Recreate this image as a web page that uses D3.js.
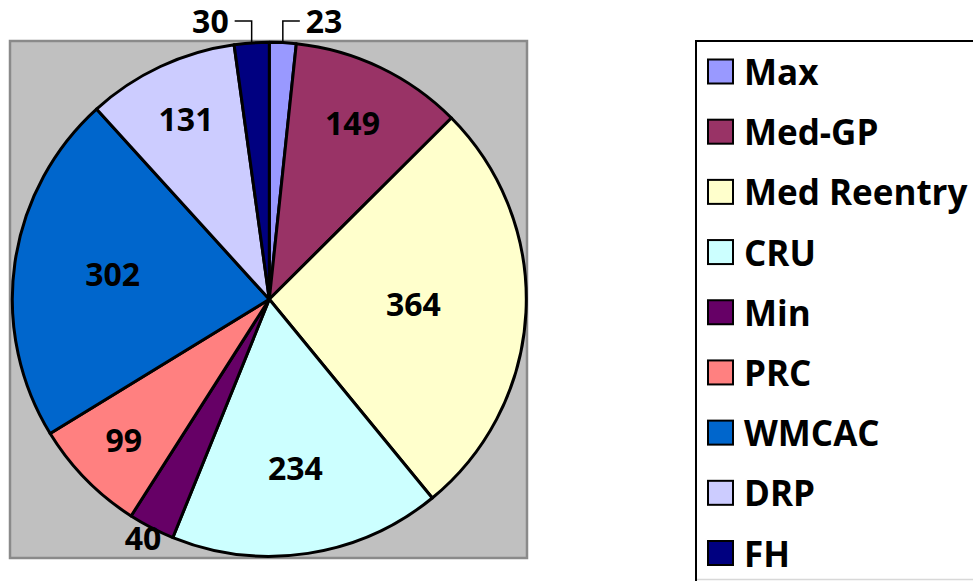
<!DOCTYPE html>
<html>
<head>
<meta charset="utf-8">
<script src="https://cdn.jsdelivr.net/npm/d3@7"></script>
<style>
  body { margin: 0; background: #fff; }
  svg { display: block; font-family: "Open Sans", sans-serif; font-weight: 700; }
</style>
</head>
<body>
<div id="chart"></div>
<script>
// data
const categories = ["Max", "Med-GP", "Med Reentry", "CRU", "Min", "PRC", "WMCAC", "DRP", "FH"];
const values = [23, 149, 364, 234, 40, 99, 302, 131, 30];
const colors = ["#9999FF", "#993366", "#FFFFCC", "#CCFFFF", "#660066", "#FF8080", "#0066CC", "#CCCCFF", "#000080"];

const width = 973, height = 581;
const plot = { x: 10, y: 41, w: 517, h: 517 };
const cx = 269.3, cy = 299.3, radius = 257;

const svg = d3.select("#chart").append("svg")
  .attr("width", width)
  .attr("height", height);

// grey plot area
svg.append("rect")
  .attr("x", plot.x).attr("y", plot.y)
  .attr("width", plot.w).attr("height", plot.h)
  .attr("fill", "#C0C0C0")
  .attr("stroke", "#8a8a8a")
  .attr("stroke-width", 2.5);

const total = d3.sum(values);
const pie = d3.pie().sort(null).value((d) => d.value);
const arcs = pie(categories.map((c, i) => ({ name: c, value: values[i], color: colors[i] })));
const arc = d3.arc().innerRadius(0).outerRadius(radius);

const g = svg.append("g").attr("transform", `translate(${cx},${cy})`);

g.selectAll("path")
  .data(arcs)
  .join("path")
  .attr("d", arc)
  .attr("fill", (d) => d.data.color)
  .attr("stroke", "#000")
  .attr("stroke-width", 3)
  .attr("stroke-linejoin", "round");

// data labels
const labelSize = 32;
const topY = 21 - cy; // row for labels of the tiny top slices
arcs.forEach((d) => {
  const share = d.value / total;
  const mid = (d.startAngle + d.endAngle) / 2;
  const sx = Math.sin(mid), sy = -Math.cos(mid);
  const label = g.append("text")
    .text(d.value)
    .attr("font-size", labelSize)
    .attr("fill", "#000");

  if (share >= 0.03) {
    const r = radius * (0.88 - 1.2 * share);
    label.attr("x", r * sx).attr("y", r * sy - 2)
      .attr("dy", "0.36em")
      .attr("text-anchor", "middle");
  } else if (Math.abs(sx) < 0.2 && sy < 0) {
    // leader line going up, then sideways
    const ex = radius * sx, ey = radius * sy;
    const dir = sx < 0 ? -1 : 1;
    g.append("path")
      .attr("d", d3.line()([[ex, ey], [ex, topY], [ex + dir * 17, topY]]))
      .attr("fill", "none")
      .attr("stroke", "#000")
      .attr("stroke-width", 1.5);
    label.attr("x", ex + dir * 23).attr("y", topY)
      .attr("dy", "0.36em")
      .attr("text-anchor", dir < 0 ? "end" : "start");
  } else {
    const r = radius + 14;
    label.attr("x", r * sx - 2).attr("y", r * sy)
      .attr("dy", "0.3em")
      .attr("text-anchor", "middle");
  }
});

// legend
const legend = svg.append("g");
legend.append("rect")
  .attr("x", 696).attr("y", 41)
  .attr("width", 300).attr("height", 560)
  .attr("fill", "#fff")
  .attr("stroke", "#000")
  .attr("stroke-width", 2);
legend.append("line")
  .attr("x1", 697).attr("x2", width)
  .attr("y1", 579.5).attr("y2", 579.5)
  .attr("stroke", "#d8d8d8")
  .attr("stroke-width", 1.5);

const rowY = d3.scalePoint().domain(categories).range([71.5, 553]);

const items = legend.selectAll("g.item")
  .data(categories)
  .join("g")
  .attr("class", "item")
  .attr("transform", (d) => `translate(0,${rowY(d)})`);

items.append("rect")
  .attr("x", 708).attr("y", -12)
  .attr("width", 25).attr("height", 24)
  .attr("fill", (d, i) => colors[i])
  .attr("stroke", "#000")
  .attr("stroke-width", 2);

items.append("text")
  .attr("x", 744).attr("y", 13.5)
  .attr("font-size", 35)
  .attr("fill", "#000")
  .text((d) => d);
</script>
</body>
</html>
